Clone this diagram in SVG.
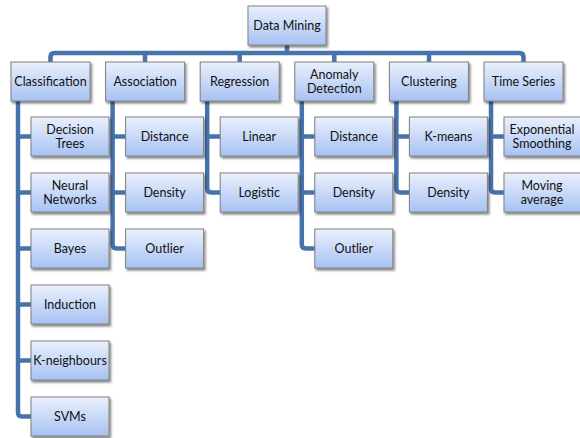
<svg xmlns="http://www.w3.org/2000/svg" width="580" height="438" viewBox="0 0 580 438">
<defs>
<linearGradient id="g" x1="0" y1="0" x2="0" y2="1">
<stop offset="0" stop-color="#eaf0fc"/>
<stop offset="1" stop-color="#a7c2f3"/>
</linearGradient>
<filter id="sh" x="-10%" y="-10%" width="130%" height="140%">
<feDropShadow dx="1.5" dy="2" stdDeviation="1.2" flood-color="#000" flood-opacity="0.5"/>
</filter>
<style>
.b{fill:url(#g);stroke:#808080;stroke-width:1;filter:url(#sh)}
.t{font-family:Lato,"Liberation Sans",sans-serif;font-size:12.5px;fill:#111;text-anchor:middle}
.c{fill:none;stroke:#4773ad;stroke-width:4.5;stroke-linejoin:round}
</style>
</defs>
<rect width="580" height="438" fill="#fff"/>
<g id="connectors">
<path class="c" d="M287 45V53"/>
<path class="c" d="M50.5 62V57Q50.5 53 54.5 53H519.5Q523.5 53 523.5 57V62"/>
<path class="c" d="M145 53V62M239.7 53V62M334.3 53V62M429 53V62"/>
<path class="c" d="M18 101V412.5Q18 416.5 22 416.5H31M18 136.5H31M18 192.5H31M18 248.5H31M18 304.5H31M18 360.5H31"/>
<path class="c" d="M112.6 101V244.5Q112.6 248.5 116.6 248.5H125.6M112.6 136.5H125.6M112.6 192.5H125.6"/>
<path class="c" d="M207.2 101V188.5Q207.2 192.5 211.2 192.5H220.2M207.2 136.5H220.2"/>
<path class="c" d="M301.8 101V244.5Q301.8 248.5 305.8 248.5H314.8M301.8 136.5H314.8M301.8 192.5H314.8"/>
<path class="c" d="M396.4 101V188.5Q396.4 192.5 400.4 192.5H409.4M396.4 136.5H409.4"/>
<path class="c" d="M491 101V188.5Q491 192.5 495 192.5H504M491 136.5H504"/>
</g>
<g id="root"><rect class="b" x="248" y="6" width="78" height="39"/><text class="t" x="287" y="30">Data Mining</text></g>
<g id="classification"><rect class="b" x="11" y="62" width="79" height="39"/><text class="t" x="50.5" y="86">Classification</text></g>
<g id="association"><rect class="b" x="105.6" y="62" width="79" height="39"/><text class="t" x="145" y="86">Association</text></g>
<g id="regression"><rect class="b" x="200.2" y="62" width="79" height="39"/><text class="t" x="239.7" y="86">Regression</text></g>
<g id="anomaly"><rect class="b" x="294.8" y="62" width="79" height="39"/><text class="t" x="334.3" y="79">Anomaly</text><text class="t" x="334.3" y="93">Detection</text></g>
<g id="clustering"><rect class="b" x="389.4" y="62" width="79" height="39"/><text class="t" x="429" y="86">Clustering</text></g>
<g id="timeseries"><rect class="b" x="484" y="62" width="79" height="39"/><text class="t" x="523.5" y="86">Time Series</text></g>

<g id="c-decision"><rect class="b" x="31" y="117" width="78" height="39"/><text class="t" x="70" y="134">Decision</text><text class="t" x="70" y="148">Trees</text></g>
<g id="c-neural"><rect class="b" x="31" y="173" width="78" height="39"/><text class="t" x="70" y="190">Neural</text><text class="t" x="70" y="204">Networks</text></g>
<g id="c-bayes"><rect class="b" x="31" y="229" width="78" height="39"/><text class="t" x="70" y="253">Bayes</text></g>
<g id="c-induction"><rect class="b" x="31" y="285" width="78" height="39"/><text class="t" x="70" y="309">Induction</text></g>
<g id="c-kneigh"><rect class="b" x="31" y="341" width="78" height="39"/><text class="t" x="70" y="365">K-neighbours</text></g>
<g id="c-svms"><rect class="b" x="31" y="397" width="78" height="39"/><text class="t" x="70" y="421">SVMs</text></g>

<g id="a-distance"><rect class="b" x="125.6" y="117" width="78" height="39"/><text class="t" x="164.6" y="141">Distance</text></g>
<g id="a-density"><rect class="b" x="125.6" y="173" width="78" height="39"/><text class="t" x="164.6" y="197">Density</text></g>
<g id="a-outlier"><rect class="b" x="125.6" y="229" width="78" height="39"/><text class="t" x="164.6" y="253">Outlier</text></g>

<g id="r-linear"><rect class="b" x="220.2" y="117" width="78" height="39"/><text class="t" x="259.2" y="141">Linear</text></g>
<g id="r-logistic"><rect class="b" x="220.2" y="173" width="78" height="39"/><text class="t" x="259.2" y="197">Logistic</text></g>

<g id="ad-distance"><rect class="b" x="314.8" y="117" width="78" height="39"/><text class="t" x="353.8" y="141">Distance</text></g>
<g id="ad-density"><rect class="b" x="314.8" y="173" width="78" height="39"/><text class="t" x="353.8" y="197">Density</text></g>
<g id="ad-outlier"><rect class="b" x="314.8" y="229" width="78" height="39"/><text class="t" x="353.8" y="253">Outlier</text></g>

<g id="cl-kmeans"><rect class="b" x="409.4" y="117" width="78" height="39"/><text class="t" x="448.4" y="141">K-means</text></g>
<g id="cl-density"><rect class="b" x="409.4" y="173" width="78" height="39"/><text class="t" x="448.4" y="197">Density</text></g>

<g id="ts-exp"><rect class="b" x="504" y="117" width="78" height="39"/><text class="t" x="542" y="134">Exponential</text><text class="t" x="542" y="148">Smoothing</text></g>
<g id="ts-moving"><rect class="b" x="504" y="173" width="78" height="39"/><text class="t" x="542" y="190">Moving</text><text class="t" x="542" y="204">average</text></g>
</svg>
